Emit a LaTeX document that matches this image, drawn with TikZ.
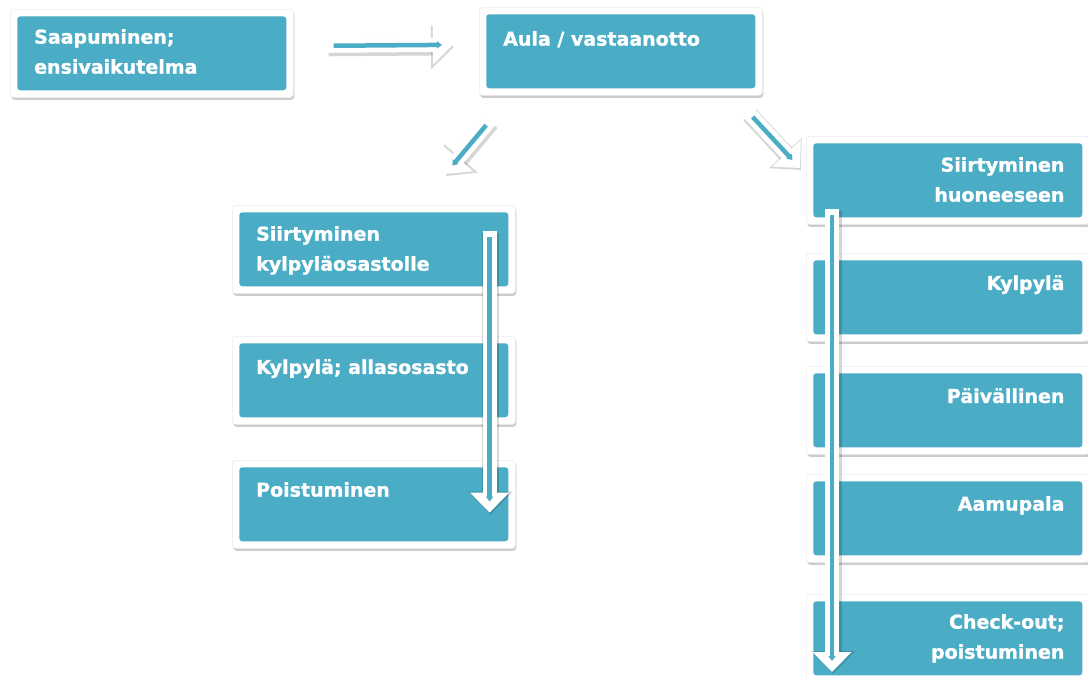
\documentclass[tikz,border=0pt]{standalone}
\usepackage{fontspec}
\setsansfont[BoldFeatures={FakeBold=1.2}]{DejaVu Sans}
\usetikzlibrary{arrows.meta, shadows}
\definecolor{boxteal}{HTML}{4BACC6}

\begin{document}
\begin{tikzpicture}[
    x=1pt, y=-1pt,
    stage/.style={fill=white, draw=black!8, line width=0.6pt, rounded corners=3pt,
        inner sep=0pt, anchor=north west, minimum width=283pt, minimum height=88pt,
        drop shadow={shadow xshift=1pt, shadow yshift=-2.5pt, opacity=0.4},
        path picture={\fill[boxteal] ([shift={(7pt,7pt)}]path picture bounding box.south west)
            rectangle ([shift={(-7pt,-7pt)}]path picture bounding box.north east);}},
    stagetext/.style={text=white, inner sep=0pt, align=left, anchor=north west,
        font=\fontsize{19}{30}\selectfont\sffamily\bfseries},
    stagetextr/.style={stagetext, align=right, anchor=north east},
    flow/.style={draw=white, line width=14pt, -{Triangle[width=38pt,length=20pt]},
        preaction={draw=black, draw opacity=0.16, line width=17pt,
            -{Triangle[width=43pt,length=23pt]},
            transform canvas={xshift=1pt,yshift=-2pt}},
        postaction={draw=boxteal, line width=4.5pt, shorten <=6pt, shorten >=11pt,
            -{Triangle[width=7pt,length=5pt]}}}
]
\useasboundingbox (0,0) rectangle (1088,680);

% Arrival and lobby
\node[stage] (arrive) at (10,9) {};
\node[stagetext] (arrivetext) at ([shift={(24,20)}]arrive.north west) {Saapuminen;\\ensivaikutelma};
\node[stage] (lobby) at (479,7) {};
\node[stagetext] (lobbytext) at ([shift={(24,24)}]lobby.north west) {Aula / vastaanotto};

% Spa visit (left branch)
\node[stage] (spaway) at (232,205) {};
\node[stagetext] (spawaytext) at ([shift={(24,21)}]spaway.north west) {Siirtyminen\\kylpyläosastolle};
\node[stage] (pool) at (232,336) {};
\node[stagetext] (pooltext) at ([shift={(24,23)}]pool.north west) {Kylpylä; allasosasto};
\node[stage] (leave) at (232,460) {};
\node[stagetext] (leavetext) at ([shift={(24,22)}]leave.north west) {Poistuminen};

% Hotel stay (right branch)
\node[stage] (toroom) at (806,136) {};
\node[stagetextr] (toroomtext) at ([shift={(-25,21)}]toroom.north east) {Siirtyminen\\huoneeseen};
\node[stage] (spa) at (806,253) {};
\node[stagetextr] (spatext) at ([shift={(-25,22)}]spa.north east) {Kylpylä};
\node[stage] (dinner) at (806,366) {};
\node[stagetextr] (dinnertext) at ([shift={(-25,22)}]dinner.north east) {Päivällinen};
\node[stage] (breakfast) at (806,474) {};
\node[stagetextr] (breakfasttext) at ([shift={(-25,22)}]breakfast.north east) {Aamupala};
\node[stage] (checkout) at (806,594) {};
\node[stagetextr] (checkouttext) at ([shift={(-25,20)}]checkout.north east) {Check-out;\\poistuminen};

% Arrow ends
\coordinate (h1) at ([shift={(34,-7.5)}]arrive.east);
\coordinate (h2) at ([shift={(-26,-6.5)}]lobby.west);
\coordinate (d1) at ([shift={(11,25)}]lobby.south west);
\coordinate (d2) at ([shift={(71.5,-31)}]spaway.north);
\coordinate (d3) at ([shift={(-14,17)}]lobby.south east);
\coordinate (d4) at ([shift={(-6,32)}]toroom.north west);
\coordinate (v1) at ([shift={(-26,26)}]spaway.north east);
\coordinate (v2) at ([shift={(-26,-36)}]leave.south east);
\coordinate (v3) at ([shift={(26,-16)}]toroom.south west);
\coordinate (v4) at ([shift={(26,78)}]checkout.north west);

% Arrows
\draw[flow] (h1) -- (h2);
\draw[flow] (d1) -- (d2);
\draw[flow] (d3) -- (d4);
\draw[flow] (v1) -- (v2);
\draw[flow] (v3) -- (v4);

\end{tikzpicture}
\end{document}
